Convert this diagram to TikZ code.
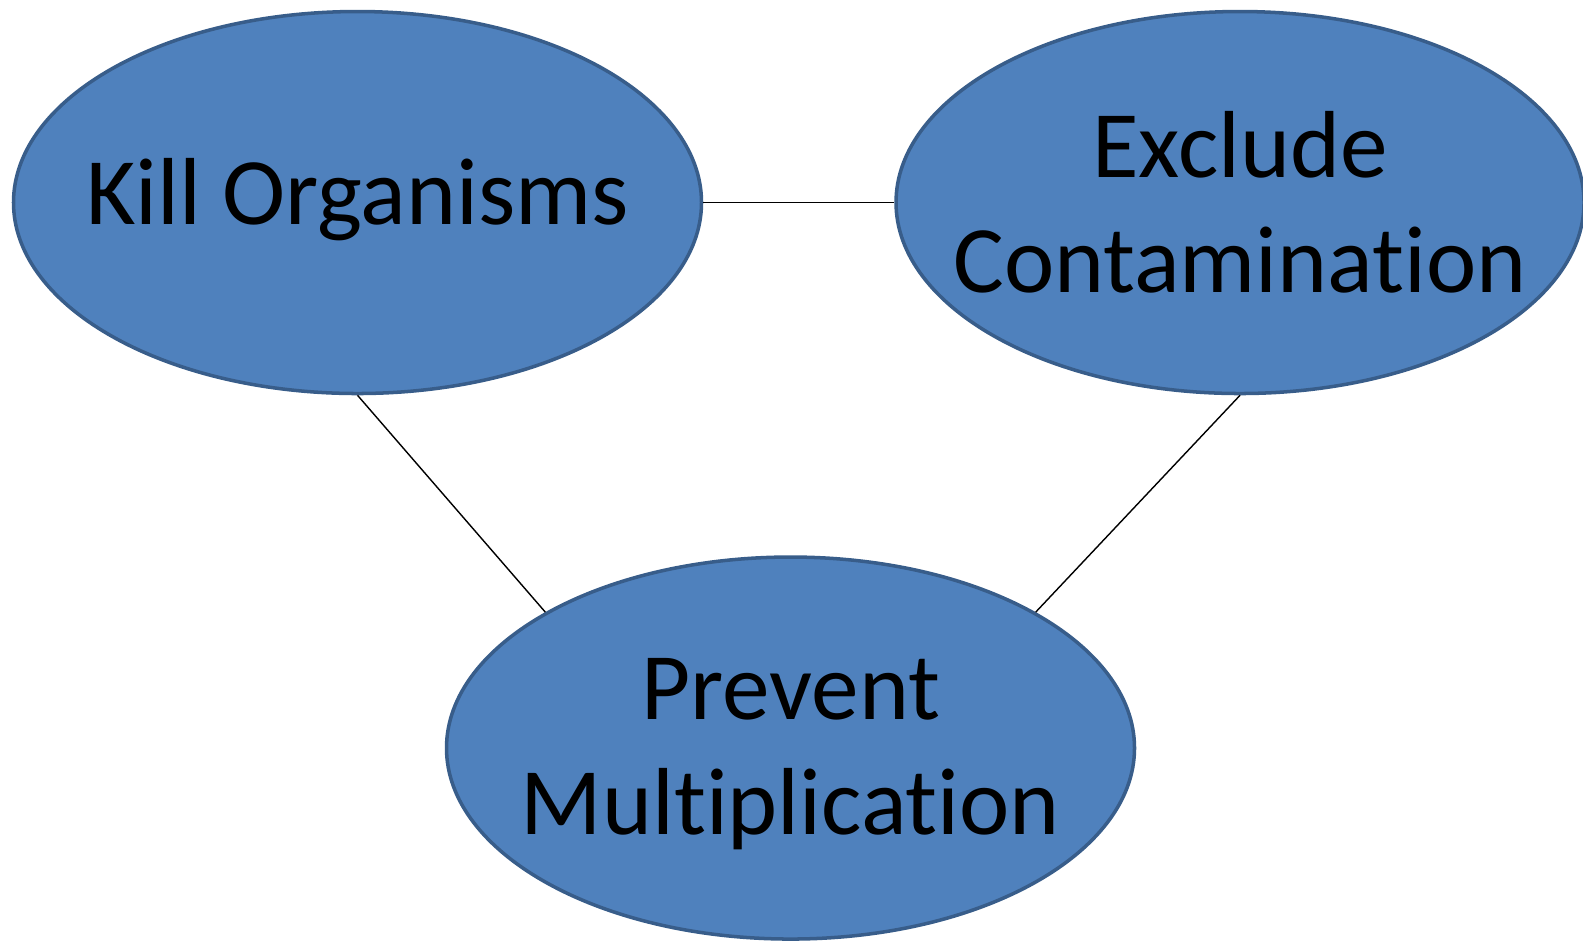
\documentclass[tikz,border=0pt]{standalone}
\usepackage{fontspec}
\setmainfont{Carlito}[Ligatures=NoCommon]
\usetikzlibrary{positioning,shapes.geometric}
\definecolor{blob_fill}{RGB}{79,129,189}
\definecolor{blob_line}{RGB}{56,93,138}

\begin{document}
\begin{tikzpicture}[
blob/.style={
  ellipse,
  draw=blob_line,
  fill=blob_fill,
  line width=1pt,
  minimum width=6.88cm,
  minimum height=3.82cm,
  inner sep=0pt
  },
txt/.style={
  align=center,
  inner sep=0pt,
  font=\fontsize{27.1}{32.6}\selectfont
  },
ln/.style={
  black,
  line width=0.4pt
  },
node distance=1.91cm
]
\useasboundingbox (0,0) rectangle (15.83,-9.40);

%The ellipses
\node[blob] (kill) at (3.575,-2.025) {};
\node[blob,right=of kill] (excl) {};
\node[blob,below=1.6cm of kill, xshift=4.33cm] (prev) {};

%Their texts
\node[txt,yshift=0.03cm] (killtxt) at (kill) {Kill Organisms};
\node[txt] (excltxt) at (excl) {Exclude\\Contamination};
\node[txt,yshift=-0.06cm] (prevtxt) at (prev) {Prevent\\Multiplication};

\draw[ln] (kill.east) -- (excl.west);
\draw[ln] (kill.south) -- (prev.151);
\draw[ln] (excl.south) -- (prev.29);

\end{tikzpicture}
\end{document}
